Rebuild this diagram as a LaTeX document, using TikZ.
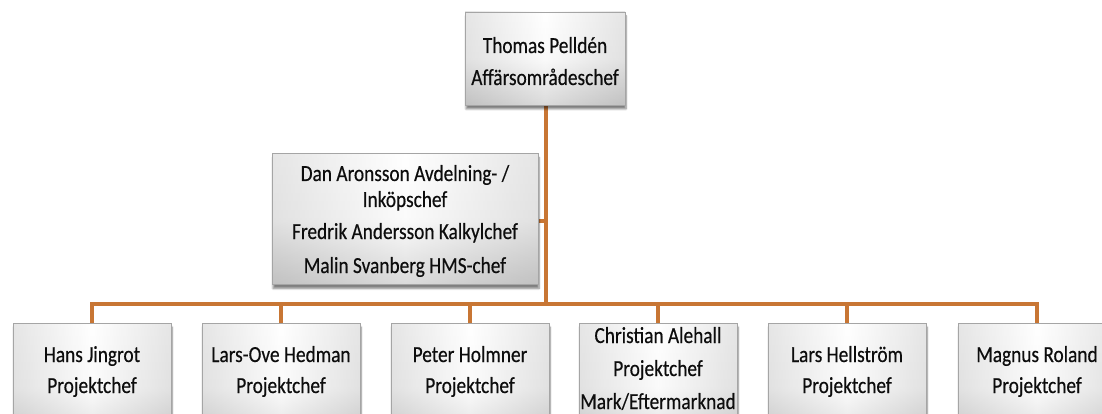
\documentclass[tikz,border=0pt]{standalone}
\usepackage{fontspec}
\setmainfont{Carlito}[FakeStretch=0.84,FakeBold=0.4]
\usetikzlibrary{shadows.blur,backgrounds}
\definecolor{conncol}{RGB}{200,118,52}
\definecolor{boxedge}{RGB}{165,165,165}
\begin{document}
\begin{tikzpicture}[x=1pt,y=-1pt,
  box/.style={rectangle,draw=boxedge,line width=0.6pt,top color=white,bottom color=black!26,
    middle color=black!3,
    blur shadow={shadow xshift=1pt,shadow yshift=-4pt,shadow blur steps=6,shadow opacity=50},
    path picture={\shade[left color=black!22,right color=black!22,middle color=white,opacity=0.45]
      (path picture bounding box.south west) rectangle (path picture bounding box.north east);},
    inner sep=0pt},
  lbl/.style={anchor=base,inner sep=0pt,font=\fontsize{23}{27}\selectfont,text=black!95},
  conn/.style={draw=conncol,line width=4.5pt}]
\useasboundingbox (0,0) rectangle (1102,414);
\clip (0,0) rectangle (1102,414);
% boxes
\node[box,minimum width=160pt,minimum height=93pt] (top) at (545,58.5) {};
\node[box,minimum width=266pt,minimum height=131pt] (mid) at (405,219) {};
\foreach \i/\cx in {1/92,2/281,3/470,4/658,5/847,6/1037}{
  \node[box,minimum width=158pt,minimum height=130pt] (c\i) at (\cx,388) {};
}
% texts
\node[lbl] (t1) at (545,53) {Thomas Pelldén};
\node[lbl] (t2) at (545,85) {Affärsområdeschef};
\node[lbl] (m1) at (405,181) {Dan Aronsson Avdelning- /};
\node[lbl] (m2) at (405,207) {Inköpschef};
\node[lbl] (m3) at (405,239) {Fredrik Andersson Kalkylchef};
\node[lbl] (m4) at (405,273) {Malin Svanberg HMS-chef};
\node[lbl] (a1) at (92,362) {Hans Jingrot};
\node[lbl] (a2) at (92,393) {Projektchef};
\node[lbl] (b1) at (281,362) {Lars-Ove Hedman};
\node[lbl] (b2) at (281,393) {Projektchef};
\node[lbl] (d1) at (470,362) {Peter Holmner};
\node[lbl] (d2) at (470,393) {Projektchef};
\node[lbl] (e1) at (658,343) {Christian Alehall};
\node[lbl] (e2) at (658,376) {Projektchef};
\node[lbl] (e3) at (658,409) {Mark/Eftermarknad};
\node[lbl] (f1) at (847,362) {Lars Hellström};
\node[lbl] (f2) at (847,393) {Projektchef};
\node[lbl] (g1) at (1037,362) {Magnus Roland};
\node[lbl] (g2) at (1037,393) {Projektchef};
% connectors
\coordinate (j) at (546,304);
\coordinate (k) at (546,221);
\begin{pgfonlayer}{background}
\draw[conn] (top.south -| j) -- (j);
\draw[conn] (k) -- (k -| mid.east);
\draw[conn] (c1.north) |- (j) -| (c6.north);
\foreach \i in {2,3,4,5}{
  \draw[conn] (c\i.north) -- (c\i.north |- j);
}
\end{pgfonlayer}
\end{tikzpicture}
\end{document}
